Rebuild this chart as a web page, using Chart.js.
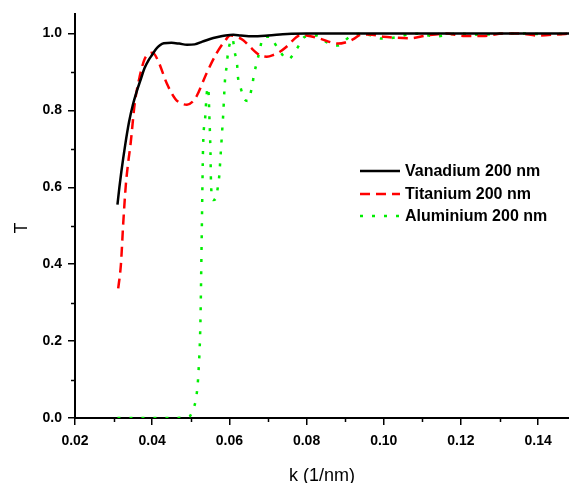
<!DOCTYPE html>
<html>
<head>
<meta charset="utf-8">
<script src="https://cdn.jsdelivr.net/npm/chart.js@4.4.1/dist/chart.umd.min.js"></script>
<style>
  body { margin: 0; background: #fff; }
  #wrap { width: 569px; height: 483px; position: relative; }
</style>
</head>
<body>
<div id="wrap"><canvas id="chart"></canvas></div>
<script>
// Transmission curves (k in 1/nm, T)
const kVanadium = [0.031, 0.0315, 0.032, 0.033, 0.034, 0.035, 0.036, 0.037, 0.038, 0.039, 0.040, 0.041, 0.042, 0.043, 0.045, 0.047, 0.049, 0.051, 0.053, 0.055, 0.057, 0.059, 0.061, 0.063, 0.066, 0.070, 0.075, 0.080, 0.090, 0.100, 0.110, 0.120, 0.130, 0.140, 0.148];
const tVanadium = [0.555, 0.60, 0.64, 0.71, 0.77, 0.815, 0.85, 0.88, 0.91, 0.93, 0.945, 0.96, 0.97, 0.975, 0.976, 0.974, 0.971, 0.972, 0.979, 0.986, 0.991, 0.995, 0.997, 0.995, 0.993, 0.995, 0.999, 1.0, 1.0, 1.0, 1.0, 1.0, 1.0, 1.0, 1.0];

const kTitanium = [0.0312, 0.0319, 0.0325, 0.0332, 0.0338, 0.0344, 0.0355, 0.0368, 0.0381, 0.0393, 0.0401, 0.0415, 0.0438, 0.0460, 0.0476, 0.0490, 0.0505, 0.0515, 0.0541, 0.0567, 0.0593, 0.0602, 0.0615, 0.0636, 0.0653, 0.0679, 0.0697, 0.0715, 0.0731, 0.0748, 0.0774, 0.0783, 0.0800, 0.0835, 0.0868, 0.0882, 0.0900, 0.0920, 0.0943, 0.0970, 0.1000, 0.1024, 0.1068, 0.1110, 0.1160, 0.1210, 0.1257, 0.1310, 0.1353, 0.1400, 0.1450, 0.1480];
const tTitanium = [0.337, 0.40, 0.507, 0.61, 0.666, 0.713, 0.82, 0.89, 0.935, 0.948, 0.95, 0.93, 0.87, 0.83, 0.818, 0.815, 0.823, 0.837, 0.897, 0.949, 0.987, 0.996, 0.993, 0.983, 0.966, 0.944, 0.94, 0.945, 0.953, 0.966, 0.991, 0.996, 0.995, 0.987, 0.976, 0.974, 0.977, 0.985, 0.998, 0.997, 0.992, 0.99, 0.988, 0.995, 1.0, 0.994, 0.994, 1.0, 1.0, 0.995, 0.998, 1.0];

const kAluminium = [0.031, 0.035, 0.040, 0.045, 0.0495, 0.0505, 0.0515, 0.052, 0.0525, 0.0528, 0.0532, 0.0537, 0.0541, 0.0544, 0.0546, 0.0548, 0.0551, 0.0552, 0.0553, 0.0558, 0.0565, 0.0570, 0.0574, 0.0576, 0.0578, 0.0580, 0.0582, 0.0584, 0.0587, 0.0589, 0.0593, 0.0596, 0.0603, 0.0608, 0.0614, 0.0620, 0.0622, 0.0630, 0.0640, 0.0648, 0.0659, 0.0664, 0.0672, 0.0679, 0.0687, 0.0705, 0.0713, 0.0730, 0.0752, 0.0775, 0.0796, 0.0827, 0.0853, 0.0881, 0.0912, 0.0938, 0.0969, 0.0995, 0.1030, 0.1080, 0.1135, 0.1190, 0.1250, 0.1310, 0.1370, 0.1420, 0.1480];
const tAluminium = [0.0, 0.0, 0.0, 0.0, 0.003, 0.02, 0.06, 0.12, 0.25, 0.45, 0.71, 0.776, 0.84, 0.86, 0.85, 0.79, 0.692, 0.63, 0.597, 0.567, 0.571, 0.60, 0.632, 0.663, 0.695, 0.726, 0.758, 0.789, 0.85, 0.884, 0.916, 0.947, 0.98, 0.987, 0.951, 0.92, 0.889, 0.856, 0.828, 0.825, 0.864, 0.895, 0.928, 0.959, 0.99, 0.992, 0.982, 0.955, 0.933, 0.961, 0.992, 0.995, 0.977, 0.969, 0.992, 1.0, 0.995, 0.987, 0.99, 1.0, 0.993, 1.0, 0.997, 1.0, 1.0, 0.998, 1.0];

const seriesNames = ['Vanadium 200 nm', 'Titanium 200 nm', 'Aluminium 200 nm'];

const xMin = 0.02, xMax = 0.148;
const yMin = 0, yMax = 1.05;

const fontFamily = '"Liberation Sans", Arial, sans-serif';

function toPoints(xs, ys) {
  return xs.map((x, i) => ({ x: x, y: ys[i] }));
}

function isMajorX(v) { return Math.round(v * 100) % 2 === 0; }
function isMajorY(v) { return Math.round(v * 10) % 2 === 0; }

// Legend inside the plot, short minor ticks, and the rotated "T" title
const extras = {
  id: 'extras',
  afterDraw(chart) {
    const ctx = chart.ctx;
    const xs = chart.scales.x, ys = chart.scales.y;
    ctx.save();

    // minor ticks (shorter than major ones)
    ctx.strokeStyle = '#000';
    ctx.lineWidth = 1.5;
    xs.ticks.forEach(t => {
      if (isMajorX(t.value)) return;
      const px = Math.round(xs.getPixelForValue(t.value)) + 0.5;
      ctx.beginPath();
      ctx.moveTo(px, xs.top);
      ctx.lineTo(px, xs.top + 4);
      ctx.stroke();
    });
    ys.ticks.forEach(t => {
      if (isMajorY(t.value)) return;
      const py = Math.round(ys.getPixelForValue(t.value)) + 0.5;
      ctx.beginPath();
      ctx.moveTo(ys.right, py);
      ctx.lineTo(ys.right - 4, py);
      ctx.stroke();
    });

    // y axis title
    ctx.save();
    ctx.translate(22, 228);
    ctx.rotate(-Math.PI / 2);
    ctx.fillStyle = '#000';
    ctx.font = '18px ' + fontFamily;
    ctx.textAlign = 'center';
    ctx.textBaseline = 'middle';
    ctx.fillText('T', 0, 0);
    ctx.restore();

    // legend
    const rows = [171, 194, 216];
    chart.data.datasets.forEach((ds, i) => {
      const y = rows[i];
      ctx.beginPath();
      ctx.strokeStyle = ds.borderColor;
      ctx.lineWidth = ds.borderWidth;
      ctx.setLineDash(ds.borderDash || []);
      ctx.moveTo(360, y);
      ctx.lineTo(400, y);
      ctx.stroke();
      ctx.setLineDash([]);
      ctx.fillStyle = '#000';
      ctx.font = 'bold 16px ' + fontFamily;
      ctx.textAlign = 'left';
      ctx.textBaseline = 'middle';
      ctx.fillText(ds.label, 405, y + 1);
    });
    ctx.restore();
  }
};

const tickFont = { family: fontFamily, size: 14, weight: 'bold' };
const titleFont = { family: fontFamily, size: 18 };

new Chart(document.getElementById('chart'), {
  type: 'line',
  data: {
    datasets: [
      {
        label: seriesNames[0],
        data: toPoints(kVanadium, tVanadium),
        borderColor: '#000000',
        borderWidth: 2.5,
        pointRadius: 0,
        cubicInterpolationMode: 'monotone'
      },
      {
        label: seriesNames[1],
        data: toPoints(kTitanium, tTitanium),
        borderColor: '#ff0000',
        borderWidth: 2.5,
        borderDash: [10, 6],
        pointRadius: 0,
        cubicInterpolationMode: 'monotone'
      },
      {
        label: seriesNames[2],
        data: toPoints(kAluminium, tAluminium),
        borderColor: '#00ee00',
        borderWidth: 2.5,
        borderDash: [3, 9],
        pointRadius: 0,
        cubicInterpolationMode: 'monotone'
      }
    ]
  },
  options: {
    responsive: true,
    maintainAspectRatio: false,
    animation: false,
    layout: { padding: { top: 10, right: 0, left: 0, bottom: 0 } },
    plugins: {
      legend: { display: false },
      tooltip: { enabled: false }
    },
    scales: {
      x: {
        type: 'linear',
        min: xMin,
        max: xMax,
        afterFit(scale) { scale.height = 65; },
        border: { display: true, color: '#000', width: 2 },
        grid: {
          drawOnChartArea: false, drawTicks: true, tickLength: 7, lineWidth: 1.5,
          tickColor: c => (c.tick && isMajorX(c.tick.value) ? '#000' : 'rgba(0,0,0,0)')
        },
        ticks: {
          stepSize: 0.01,
          includeBounds: false,
          autoSkip: false,
          maxRotation: 0,
          color: '#000',
          font: tickFont,
          padding: 8,
          callback: v => (isMajorX(v) ? v.toFixed(2) : '')
        },
        title: { display: true, text: 'k (1/nm)', color: '#000', font: titleFont, padding: { top: 0, bottom: -4 } }
      },
      y: {
        min: yMin,
        max: yMax,
        afterFit(scale) { scale.width = 75; },
        border: { display: true, color: '#000', width: 2 },
        grid: {
          drawOnChartArea: false, drawTicks: true, tickLength: 7, lineWidth: 1.5,
          tickColor: c => (c.tick && isMajorY(c.tick.value) ? '#000' : 'rgba(0,0,0,0)')
        },
        ticks: {
          stepSize: 0.1,
          includeBounds: false,
          autoSkip: false,
          color: '#000',
          font: tickFont,
          padding: 6,
          callback: v => (isMajorY(v) ? v.toFixed(1) : '')
        },
        title: { display: false }
      }
    }
  },
  plugins: [extras]
});
</script>
</body>
</html>
